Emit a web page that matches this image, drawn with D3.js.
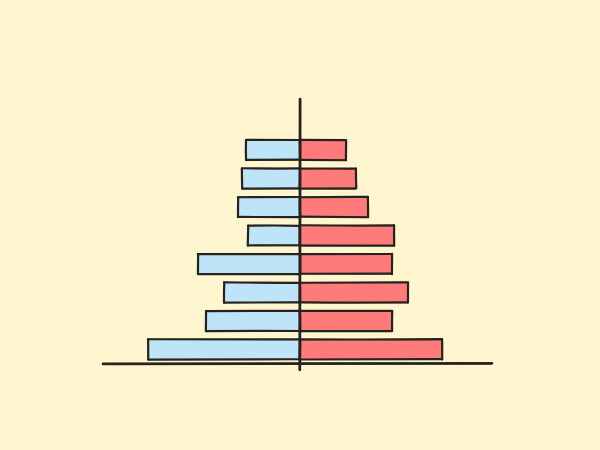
<!DOCTYPE html>
<html>
<head>
<meta charset="utf-8">
<script src="https://cdn.jsdelivr.net/npm/d3@7"></script>
<style>
  html, body { margin: 0; padding: 0; background: #FFF5CE; }
  svg { display: block; }
</style>
</head>
<body>
<svg id="chart" width="600" height="450"></svg>
<script>
// Age groups, bottom to top
const categories = ["0-9", "10-19", "20-29", "30-39", "40-49", "50-59", "60-69", "70+"];
// Left (blue) series values
const leftValues = [7.6, 4.7, 3.8, 5.1, 2.6, 3.1, 2.9, 2.7];
// Right (red) series values
const rightValues = [7.1, 4.6, 5.4, 4.6, 4.7, 3.4, 2.8, 2.3];

const svg = d3.select("#chart");
const W = 600, H = 450;
svg.append("rect").attr("width", W).attr("height", H).attr("fill", "#FFF5CE");

const x = d3.scaleLinear().domain([-10, 10]).range([100, 500]);
const y = d3.scaleBand().domain(categories).range([368, 131.5]).paddingInner(0.3).paddingOuter(0.3);

const ink = "#262420";

// deterministic wobble for sketchy look
let seed = 11;
function rnd() { seed = (seed * 16807) % 2147483647; return (seed - 1) / 2147483646; }
function j(a) { return (rnd() - 0.5) * 2 * a; }

function sketchLine(g, x1, y1, x2, y2, w, amp) {
  for (let k = 0; k < 2; k++) {
    const mx = (x1 + x2) / 2 + j(amp), my = (y1 + y2) / 2 + j(amp);
    g.append("path")
      .attr("d", `M${x1 + j(amp)},${y1 + j(amp)} Q${mx},${my} ${x2 + j(amp)},${y2 + j(amp)}`)
      .attr("fill", "none").attr("stroke", ink)
      .attr("stroke-width", k === 0 ? w : w * 0.5)
      .attr("stroke-linecap", "round")
      .attr("opacity", k === 0 ? 1 : 0.7);
  }
}

function sketchRect(g, x0, y0, w, h, fill) {
  g.append("rect").attr("x", x0).attr("y", y0).attr("width", w).attr("height", h).attr("fill", fill);
  const a = 0.3;
  sketchLine(g, x0, y0, x0 + w, y0, 2.2, a);
  sketchLine(g, x0 + w, y0, x0 + w, y0 + h, 2.2, a);
  sketchLine(g, x0 + w, y0 + h, x0, y0 + h, 2.2, a);
  sketchLine(g, x0, y0 + h, x0, y0, 2.2, a);
}

const bars = svg.append("g");
categories.forEach((c, i) => {
  const yy = y(c), bh = y.bandwidth();
  const xl = x(-leftValues[i]);
  sketchRect(bars, xl, yy, x(0) - xl, bh, "#BEE5F7");
  const xr = x(rightValues[i]);
  sketchRect(bars, x(0), yy, xr - x(0), bh, "#FF7A7A");
});

// axes
const axes = svg.append("g");
sketchLine(axes, 103, 364, 492, 363.5, 2.8, 0.3);
sketchLine(axes, x(0), 99, x(0), 370, 2.8, 0.3);
</script>
</body>
</html>
